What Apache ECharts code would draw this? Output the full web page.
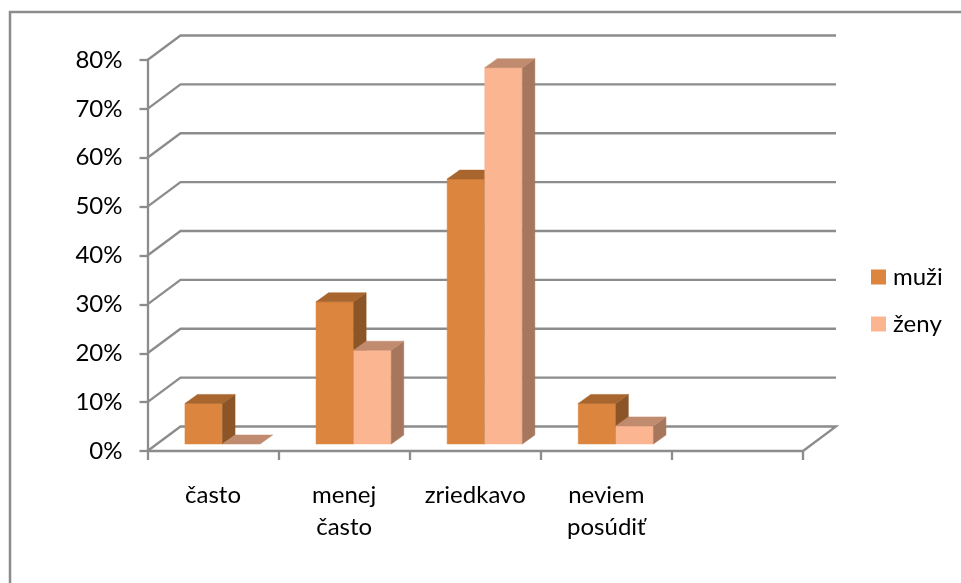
<!DOCTYPE html>
<html><head><meta charset="utf-8">
<style>html,body{margin:0;padding:0;background:#fff}#c{width:961px;height:583px}</style>
<script src="https://cdn.jsdelivr.net/npm/echarts@6/dist/echarts.min.js"></script>
</head><body><div id="c"></div>
<script>
const categories = ['často', 'menej\nčasto', 'zriedkavo', 'neviem\nposúdiť', ''];
const muzi = [8.3, 29.1, 54.2, 8.3, null];
const zeny = [0, 19.2, 77, 3.7, null];
const ticks = [0, 10, 20, 30, 40, 50, 60, 70, 80];

const WALL = [33, -24.5];   // depth of the floor/back wall
const INSET = [9.5, -7];    // bars stand this far into the floor
const DEPTH = [12.5, -9];   // depth of each bar
const BARW = 37.6;
const GRAY = '#8c8c8c';
const FONT = 'Lato';

function poly(points, fill) {
  return { type: 'polygon', shape: { points }, style: { fill, stroke: fill, lineWidth: 0.5 } };
}
function barItem(front, top, side, dir) {
  return function (params, api) {
    const v = api.value(1);
    const base = api.coord([api.value(0), 0]);
    const head = api.coord([api.value(0), v]);
    const x0 = base[0] + INSET[0] + (dir < 0 ? -BARW : 0);
    const x1 = x0 + BARW;
    const yb = base[1] + INSET[1];
    const yt = head[1] + INSET[1];
    const dx = DEPTH[0], dy = DEPTH[1];
    const children = [];
    if (v > 0) {
      children.push(poly([[x0, yb], [x1, yb], [x1, yt], [x0, yt]], front));
      children.push(poly([[x1, yb], [x1 + dx, yb + dy], [x1 + dx, yt + dy], [x1, yt]], side));
    }
    children.push(poly([[x0, yt], [x1, yt], [x1 + dx, yt + dy], [x0 + dx, yt + dy]], top));
    return { type: 'group', children };
  };
}
function wallItem(params, api) {
  const v = api.value(0);
  const cs = params.coordSys;
  const p = api.coord([0, v]);
  const xl = cs.x, xr = cs.x + cs.width, y = p[1];
  const pts = [[xl, y], [xl + WALL[0], y + WALL[1]], [xr + WALL[0], y + WALL[1]]];
  if (v === 0) pts.push([xr, y]);
  return {
    type: 'polyline', shape: { points: pts },
    style: { fill: 'none', stroke: GRAY, lineWidth: 2.3 }, silent: true
  };
}
const chart = echarts.init(document.getElementById('c'), null, { renderer: 'canvas' });
chart.setOption({
  animation: false,
  backgroundColor: '#fff',
  graphic: [{
    type: 'polyline', shape: { points: [[961, 12], [10, 12], [10, 583]] },
    style: { fill: 'none', stroke: '#8c8c8c', lineWidth: 2.5 }, z: -1
  }],
  grid: { left: 147.5, right: 158, top: 60, bottom: 132 },
  xAxis: {
    type: 'category', data: categories, boundaryGap: true,
    axisLine: { onZero: true, lineStyle: { color: GRAY, width: 2.3 } },
    axisTick: { show: true, alignWithLabel: false, length: 9, lineStyle: { color: GRAY, width: 2.3 } },
    axisLabel: { color: '#000', fontFamily: FONT, fontSize: 24, lineHeight: 32, margin: 28, interval: 0 },
    splitLine: { show: false }
  },
  yAxis: {
    type: 'value', min: 0, max: 80, interval: 10,
    axisLine: { show: true, lineStyle: { color: GRAY, width: 2.3 } },
    axisTick: { show: true, length: 8, lineStyle: { color: GRAY, width: 2.3 } },
    axisLabel: { color: '#000', fontFamily: FONT, fontSize: 24, margin: 25, padding: [4, 0, 0, 0], formatter: '{value}%' },
    splitLine: { show: false }
  },
  legend: {
    orient: 'vertical', left: 866, top: 260, itemWidth: 15, itemHeight: 15, itemGap: 23,
    icon: 'rect', data: ['muži', 'ženy'],
    textStyle: { color: '#000', fontFamily: FONT, fontSize: 24, padding: [0, 0, 0, 2] }
  },
  series: [
    { type: 'custom', name: 'wall', coordinateSystem: 'cartesian2d', data: ticks.map(t => [t]),
      encode: { y: 0 }, renderItem: wallItem, silent: true, z: 1, clip: false, legendHoverLink: false },
    { type: 'custom', name: 'muži', coordinateSystem: 'cartesian2d',
      data: muzi.map((v, i) => [i, v]).filter(d => d[1] !== null),
      encode: { x: 0, y: 1 }, itemStyle: { color: '#DC853E' },
      renderItem: barItem('#DC853E', '#A8652E', '#8B5527', -1), z: 2, clip: false },
    { type: 'custom', name: 'ženy', coordinateSystem: 'cartesian2d',
      data: zeny.map((v, i) => [i, v]).filter(d => d[1] !== null),
      encode: { x: 0, y: 1 }, itemStyle: { color: '#FBB591' },
      renderItem: barItem('#FBB591', '#C08B6E', '#A6775D', 1), z: 3, clip: false }
  ]
});
</script></body></html>
